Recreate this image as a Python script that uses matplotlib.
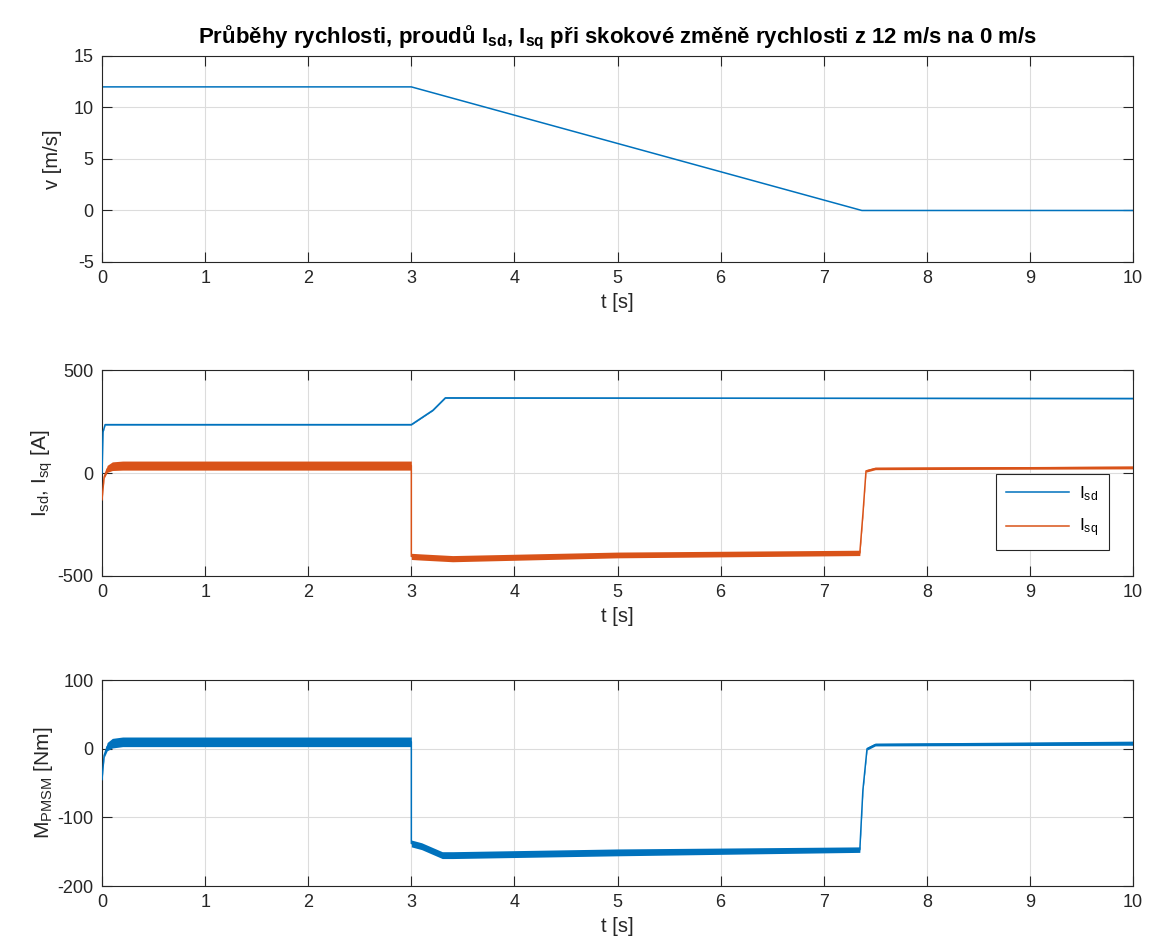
import matplotlib.pyplot as plt
import numpy as np

plt.rcParams['font.family'] = ['Liberation Sans', 'DejaVu Sans']
plt.rcParams['mathtext.default'] = 'regular'
plt.rcParams['axes.unicode_minus'] = False

# rychlost
t_v = [0, 3.0, 7.37, 10]
v = [12, 12, 0, 0]

# proudy
t_isd = [0, 0.01, 0.03, 3.0, 3.21, 3.33, 10]
isd = [0, 200, 235, 235, 305, 365, 362]
isd_noise = [0, 2, 2, 2, 2, 2, 2]

t_isq = [0, 0.02, 0.05, 0.1, 0.2, 3.0, 3.0, 3.1, 3.4, 5.0, 7.35, 7.38, 7.41, 7.5, 10]
isq = [-130, -20, 20, 33, 36, 36, -405, -408, -416, -398, -388, -200, 10, 22, 27]
isq_noise = [0, 6, 17, 21, 22, 22, 15, 15, 15, 14, 13, 8, 6, 6, 7]

# moment
t_m = [0, 0.02, 0.05, 0.1, 0.2, 3.0, 3.0, 3.1, 3.3, 3.4, 5.0, 7.35, 7.38, 7.42, 7.5, 10]
m = [-45, -10, 3, 8, 10, 10, -138, -142, -155, -155, -151, -147, -60, 0, 6, 8]
m_noise = [0, 3, 6, 7, 7, 7, 5, 5, 5, 5, 5, 4, 3, 2, 2, 3]

blue = '#0072BD'
orange = '#D95319'
ax_col = '#262626'

fig = plt.figure(figsize=(11.49, 9.52), dpi=100)
left, width = 0.0888, 0.8973
axes = [fig.add_axes([left, 0.7248, width, 0.2164]),
        fig.add_axes([left, 0.3950, width, 0.2163]),
        fig.add_axes([left, 0.0693, width, 0.2164])]


def style(ax, ylim, yticks):
    ax.set_xlim(0, 10)
    ax.set_ylim(*ylim)
    ax.set_xticks(range(11))
    ax.set_yticks(yticks)
    ax.grid(True, color='#dcdcdc', linewidth=0.8)
    ax.set_axisbelow(True)
    ax.tick_params(direction='in', top=True, right=True, length=7, width=0.8,
                   colors=ax_col, labelsize=13, pad=6)
    for s in ax.spines.values():
        s.set_color(ax_col)
        s.set_linewidth(0.8)
    ax.set_xlabel('t [s]', fontsize=14.5, color=ax_col, labelpad=4)


def noisy(ax, t, y, n, col, lw):
    t = np.array(t)
    y = np.array(y)
    n = np.array(n)
    ax.fill_between(t, y - n, y + n, color=col, linewidth=0, zorder=2)
    line, = ax.plot(t, y, color=col, linewidth=lw, zorder=3)
    return line


ax = axes[0]
style(ax, (-5, 15), [-5, 0, 5, 10, 15])
ax.plot(t_v, v, color=blue, linewidth=1.1)
ax.set_ylabel('v [m/s]', fontsize=14.5, color=ax_col, labelpad=8)
ax.set_title('Průběhy rychlosti, proudů I$_{sd}$, I$_{sq}$ při skokové změně rychlosti z 12 m/s na 0 m/s',
             fontsize=16, fontweight='bold', color='black', pad=9)

ax = axes[1]
style(ax, (-500, 500), [-500, 0, 500])
l1 = noisy(ax, t_isd, isd, isd_noise, blue, 1.1)
l2 = noisy(ax, t_isq, isq, isq_noise, orange, 1.1)
ax.set_ylabel('I$_{sd}$, I$_{sq}$ [A]', fontsize=15, color=ax_col, labelpad=2)
leg = ax.legend([l1, l2], ['I$_{sd}$', 'I$_{sq}$'], loc='lower right',
                fontsize=12.5, fancybox=False, edgecolor=ax_col, framealpha=1,
                handlelength=3.6, borderpad=0.6, labelspacing=0.8,
                handletextpad=0.6, bbox_to_anchor=(0.985, 0.085))
leg.get_frame().set_linewidth(0.8)

ax = axes[2]
style(ax, (-200, 100), [-200, -100, 0, 100])
noisy(ax, t_m, m, m_noise, blue, 1.1)
ax.set_ylabel('M$_{PMSM}$ [Nm]', fontsize=15, color=ax_col, labelpad=2)

fig.savefig('out.png', dpi=100)
